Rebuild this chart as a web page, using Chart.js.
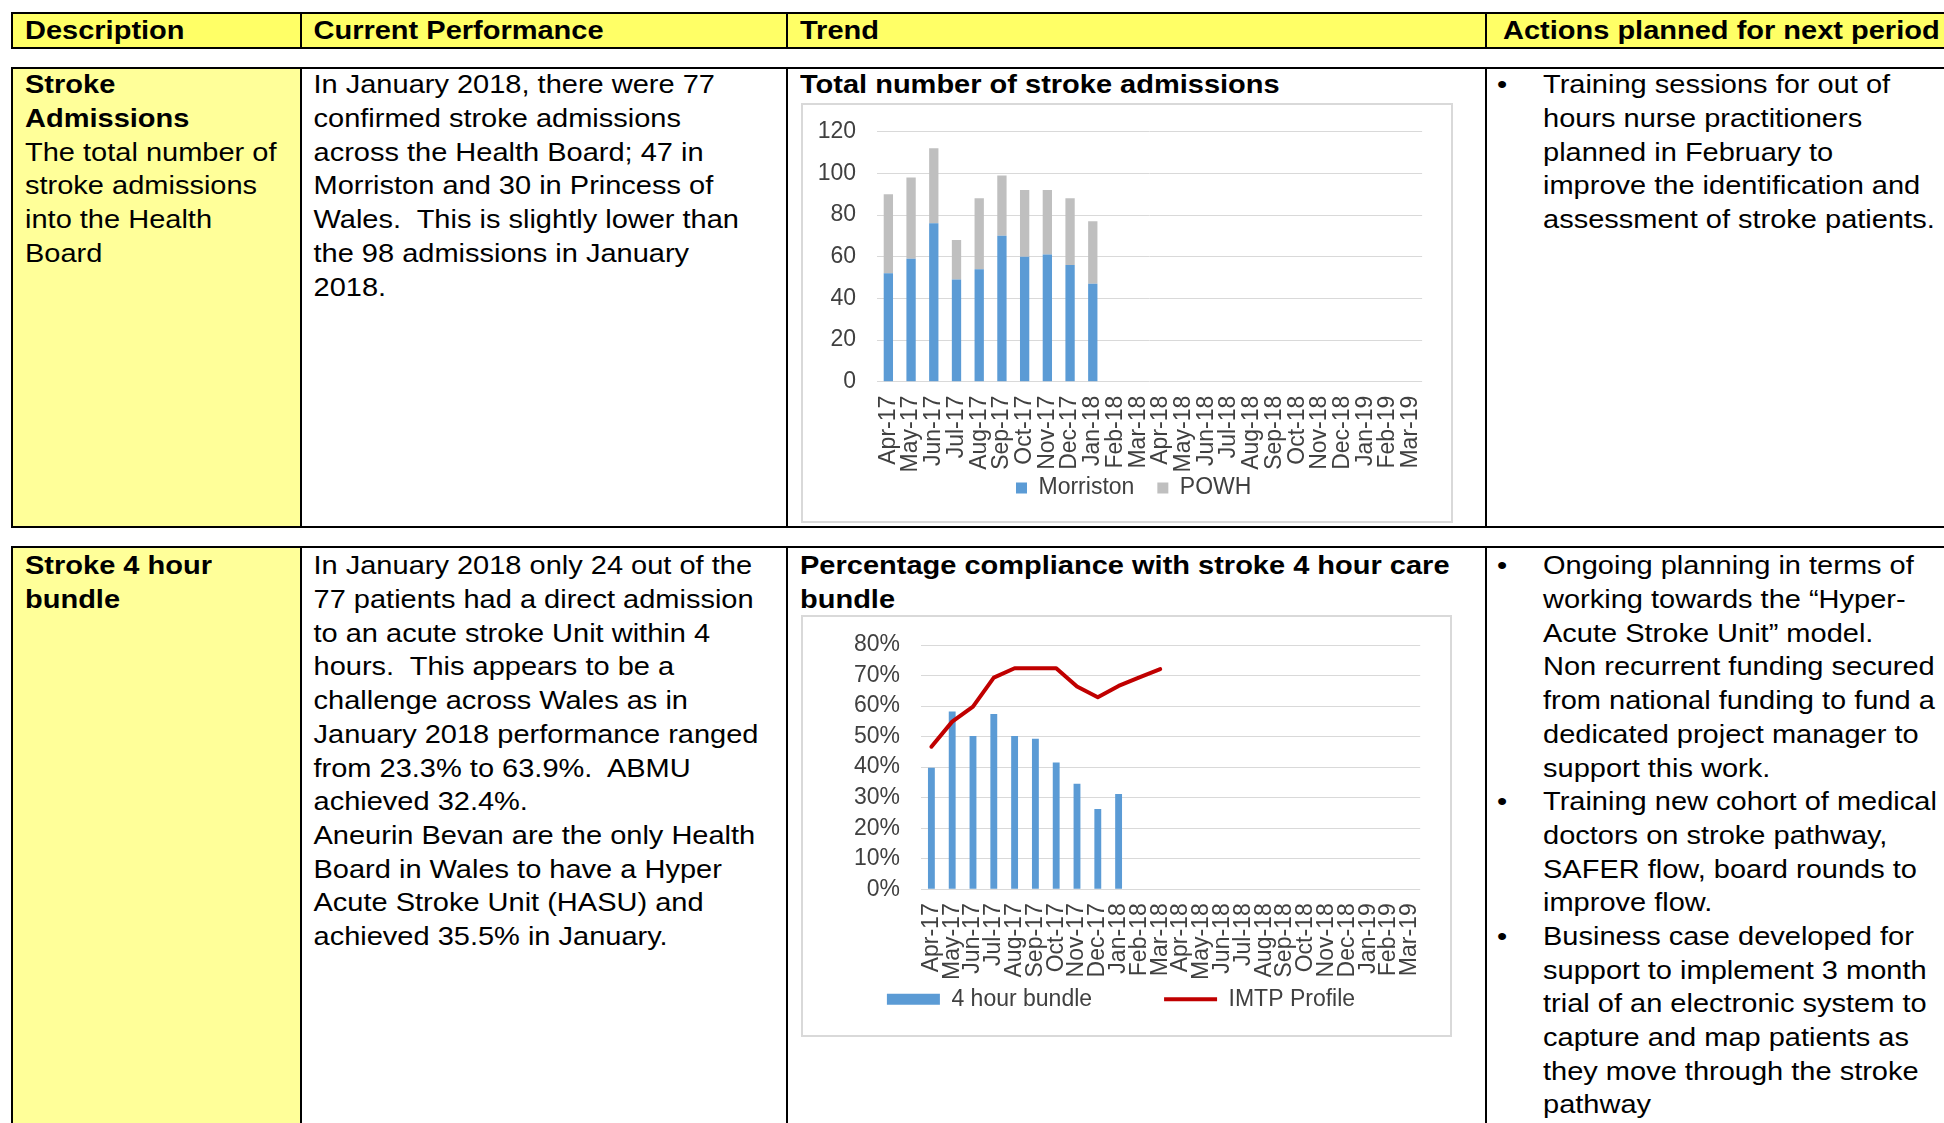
<!DOCTYPE html>
<html>
<head>
<meta charset="utf-8">
<script src="https://cdn.jsdelivr.net/npm/chart.js@4.4.1/dist/chart.umd.min.js"></script>
<style>
  html, body { margin: 0; padding: 0; background: #fff; }
  body { width: 1944px; height: 1123px; position: relative; overflow: hidden;
         font-family: "Liberation Sans", Arial, sans-serif; color: #000; }
  .fill { position: absolute; }
  .rule { position: absolute; background: #000; }
  .txt { position: absolute; white-space: pre; font-size: 29px; line-height: 37px;
         transform: scaleY(0.91); transform-origin: 0 0; }
  .b { font-weight: bold; }
  .frame { position: absolute; box-sizing: border-box; border: 2px solid #d9d9d9; }
  canvas { position: absolute; }
</style>
</head>
<body>

<!-- yellow fills -->
<div class="fill" style="left:11px;top:12px;width:1933px;height:37px;background:#ffff66"></div>
<div class="fill" style="left:13px;top:69px;width:287px;height:457px;background:#ffff99"></div>
<div class="fill" style="left:13px;top:548px;width:287px;height:575px;background:#ffff99"></div>

<!-- table rules -->
<div class="rule" style="left:11px;top:12px;width:1933px;height:2px"></div>
<div class="rule" style="left:11px;top:47px;width:1933px;height:2px"></div>
<div class="rule" style="left:11px;top:67px;width:1933px;height:2px"></div>
<div class="rule" style="left:11px;top:526px;width:1933px;height:2px"></div>
<div class="rule" style="left:11px;top:546px;width:1933px;height:2px"></div>

<div class="rule" style="left:11px;top:12px;width:2px;height:37px"></div>
<div class="rule" style="left:300px;top:12px;width:2px;height:37px"></div>
<div class="rule" style="left:786px;top:12px;width:2px;height:37px"></div>
<div class="rule" style="left:1485px;top:12px;width:2px;height:37px"></div>

<div class="rule" style="left:11px;top:67px;width:2px;height:461px"></div>
<div class="rule" style="left:300px;top:67px;width:2px;height:461px"></div>
<div class="rule" style="left:786px;top:67px;width:2px;height:461px"></div>
<div class="rule" style="left:1485px;top:67px;width:2px;height:461px"></div>

<div class="rule" style="left:11px;top:546px;width:2px;height:577px"></div>
<div class="rule" style="left:300px;top:546px;width:2px;height:577px"></div>
<div class="rule" style="left:786px;top:546px;width:2px;height:577px"></div>
<div class="rule" style="left:1485px;top:546px;width:2px;height:577px"></div>

<!-- header -->
<div class="txt b" style="left:25px;top:13.5px">Description</div>
<div class="txt b" style="left:313.5px;top:13.5px">Current Performance</div>
<div class="txt b" style="left:800px;top:13.5px">Trend</div>
<div class="txt b" style="left:1503px;top:13.5px">Actions planned for next period</div>

<!-- row 1 -->
<div class="txt" style="left:25px;top:68px"><b>Stroke
Admissions</b>
The total number of
stroke admissions
into the Health
Board</div>
<div class="txt" style="left:313.5px;top:68px">In January 2018, there were 77
confirmed stroke admissions
across the Health Board; 47 in
Morriston and 30 in Princess of
Wales.  This is slightly lower than
the 98 admissions in January
2018.</div>
<div class="txt b" style="left:800px;top:68px">Total number of stroke admissions</div>
<div class="txt" style="left:1497px;top:68px">•</div>
<div class="txt" style="left:1543px;top:68px">Training sessions for out of
hours nurse practitioners
planned in February to
improve the identification and
assessment of stroke patients.</div>

<div class="frame" style="left:801px;top:103px;width:652px;height:420px"></div>
<canvas id="admissions" width="652" height="420" style="left:801px;top:103px"></canvas>

<!-- row 2 -->
<div class="txt b" style="left:25px;top:549px">Stroke 4 hour
bundle</div>
<div class="txt" style="left:313.5px;top:549px">In January 2018 only 24 out of the
77 patients had a direct admission
to an acute stroke Unit within 4
hours.  This appears to be a
challenge across Wales as in
January 2018 performance ranged
from 23.3% to 63.9%.  ABMU
achieved 32.4%.
Aneurin Bevan are the only Health
Board in Wales to have a Hyper
Acute Stroke Unit (HASU) and
achieved 35.5% in January.</div>
<div class="txt b" style="left:800px;top:549px">Percentage compliance with stroke 4 hour care
bundle</div>
<div class="txt" style="left:1497px;top:549px">•






•



•</div>
<div class="txt" style="left:1543px;top:549px">Ongoing planning in terms of
working towards the “Hyper-
Acute Stroke Unit” model.
Non recurrent funding secured
from national funding to fund a
dedicated project manager to
support this work.
Training new cohort of medical
doctors on stroke pathway,
SAFER flow, board rounds to
improve flow.
Business case developed for
support to implement 3 month
trial of an electronic system to
capture and map patients as
they move through the stroke
pathway</div>

<div class="frame" style="left:801px;top:615px;width:651px;height:422px"></div>
<canvas id="bundle" width="651" height="422" style="left:801px;top:615px"></canvas>

<script>
// categories (shared by both charts)
const months = ['Apr-17', 'May-17', 'Jun-17', 'Jul-17', 'Aug-17', 'Sep-17', 'Oct-17', 'Nov-17',
                'Dec-17', 'Jan-18', 'Feb-18', 'Mar-18', 'Apr-18', 'May-18', 'Jun-18', 'Jul-18',
                'Aug-18', 'Sep-18', 'Oct-18', 'Nov-18', 'Dec-18', 'Jan-19', 'Feb-19', 'Mar-19'];

// stroke admissions (stacked)
const morriston = [52, 59, 76, 49, 54, 70, 60, 61, 56, 47];
const powh = [38, 39, 36, 19, 34, 29, 32, 31, 32, 30];
const admissionTicks = [0, 20, 40, 60, 80, 100, 120];

// 4 hour bundle compliance, %
const bundle4h = [39.8, 58.2, 50.2, 57.4, 50.2, 49.3, 41.5, 34.6, 26.3, 31.2];
const imtpProfile = [46.7, 54.9, 59.8, 69.3, 72.4, 72.4, 72.4, 66.4, 62.9, 66.6, 69.4, 72.1];
const percentTicks = [0, 10, 20, 30, 40, 50, 60, 70, 80];

Chart.defaults.font.family = '"Liberation Sans", Arial, sans-serif';
const axisFont = { size: 23 };
const labelGrey = '#404040';
const gridGrey = '#d9d9d9';

// pin the axis boxes so the plot area lands where it is in the picture
const fixWidth = w => scale => { scale.width = w; };
const fixHeight = h => scale => { scale.height = h; };

// the legend sits over the tick labels like in Excel, so keep it out of
// the layout and put it where it should go afterwards
const legendPlacer = {
    id: 'legendPlacer',
    beforeLayout(chart) {
        const lg = chart.legend;
        if (lg && !lg._placed) {
            const fit = lg.fit;
            lg.fit = function () {
                fit.call(this);
                this._realHeight = this.height;
                this.height = 0;
            };
            lg._placed = true;
        }
    },
    afterLayout(chart, args, opts) {
        const lg = chart.legend;
        lg.top = opts.top;
        lg.height = lg._realHeight;
        lg.bottom = lg.top + lg.height;
        lg.left += opts.shift;
        lg.right += opts.shift;
    }
};

function xAxis() {
    return {
        grid: { display: false, drawTicks: false },
        border: { display: false },
        ticks: { font: axisFont, color: labelGrey, autoSkip: false, minRotation: 90, maxRotation: 90, padding: 14 },
        afterFit: fixHeight(95)
    };
}

// label gap = invisible tick (7) + padding (14); padding alone would push the plot top down
function yAxis(ticks, w, fmt) {
    return {
        min: ticks[0],
        max: ticks[ticks.length - 1],
        grid: { color: gridGrey, drawTicks: true, tickLength: 7, tickColor: 'rgba(0,0,0,0)' },
        border: { display: false },
        ticks: { stepSize: ticks[1] - ticks[0], autoSkip: false, font: axisFont, color: labelGrey,
                 padding: 14, callback: fmt },
        afterFit: fixWidth(w)
    };
}

new Chart(document.getElementById('admissions'), {
    type: 'bar',
    data: {
        labels: months,
        datasets: [
            { label: 'Morriston', data: morriston, backgroundColor: '#5b9bd5', borderWidth: 0,
              categoryPercentage: 1, barPercentage: 0.41 },
            { label: 'POWH', data: powh, backgroundColor: '#bfbfbf', borderWidth: 0,
              categoryPercentage: 1, barPercentage: 0.41 }
        ]
    },
    plugins: [legendPlacer],
    options: {
        responsive: false,
        animation: false,
        layout: { padding: { left: 0, right: 30, top: 28.7, bottom: 46.3 } },
        plugins: {
            legend: {
                position: 'bottom',
                labels: { font: axisFont, color: labelGrey, boxWidth: 11, boxHeight: 11, padding: 23 }
            },
            legendPlacer: { top: 350.5, shift: 21.7 },
            tooltip: { enabled: false }
        },
        scales: {
            x: Object.assign(xAxis(), { stacked: true }),
            y: Object.assign(yAxis(admissionTicks, 76, v => v), { stacked: true })
        }
    }
});

new Chart(document.getElementById('bundle'), {
    type: 'bar',
    data: {
        labels: months,
        datasets: [
            { type: 'bar', label: '4 hour bundle', data: bundle4h, backgroundColor: '#5b9bd5', borderWidth: 0,
              categoryPercentage: 1, barPercentage: 0.33, order: 1 },
            { type: 'line', label: 'IMTP Profile', data: imtpProfile, borderColor: '#c00000',
              backgroundColor: '#c00000', borderWidth: 4, pointRadius: 0, tension: 0,
              borderJoinStyle: 'round', borderCapStyle: 'round', order: 0 }
        ]
    },
    plugins: [legendPlacer],
    options: {
        responsive: false,
        animation: false,
        layout: { padding: { left: 0, right: 29, top: 30, bottom: 52.7 } },
        plugins: {
            legend: {
                position: 'bottom',
                labels: {
                    font: axisFont, color: labelGrey,
                    usePointStyle: true, pointStyleWidth: 53, boxHeight: 11, padding: 72,
                    sort: (a, b) => a.datasetIndex - b.datasetIndex,
                    generateLabels: chart => Chart.defaults.plugins.legend.labels.generateLabels(chart).map(item => {
                        const ds = chart.data.datasets[item.datasetIndex];
                        if (ds.type === 'line') {
                            item.pointStyle = 'line';
                            item.lineWidth = ds.borderWidth;
                            item.strokeStyle = ds.borderColor;
                        } else {
                            item.pointStyle = 'rect';
                            item.lineWidth = 0;
                        }
                        return item;
                    })
                }
            },
            legendPlacer: { top: 300.8, shift: 9 },
            tooltip: { enabled: false }
        },
        scales: {
            x: xAxis(),
            y: yAxis(percentTicks, 120, v => v + '%')
        }
    }
});
</script>
</body>
</html>
